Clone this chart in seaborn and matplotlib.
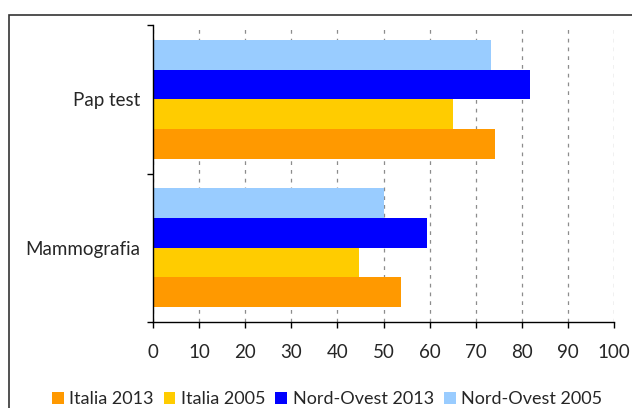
import numpy as np
import pandas as pd
import matplotlib
matplotlib.use("Agg")
import matplotlib.pyplot as plt
from matplotlib.patches import Patch, Rectangle
from matplotlib.ticker import FixedLocator
import seaborn as sns

categories = ["Pap test", "Mammografia"]
series = ["Nord-Ovest 2005", "Nord-Ovest 2013", "Italia 2005", "Italia 2013"]
nord_ovest_2005 = [73.3, 50.2]
nord_ovest_2013 = [81.7, 59.4]
italia_2005 = [65.1, 44.6]
italia_2013 = [74.2, 53.7]
colors = {"Italia 2013": "#FF9900", "Italia 2005": "#FFCC00",
          "Nord-Ovest 2013": "#0000FF", "Nord-Ovest 2005": "#99CCFF"}
legend_order = ["Italia 2013", "Italia 2005", "Nord-Ovest 2013", "Nord-Ovest 2005"]
x_ticks = list(range(0, 101, 10))

values = {"Nord-Ovest 2005": nord_ovest_2005, "Nord-Ovest 2013": nord_ovest_2013,
          "Italia 2005": italia_2005, "Italia 2013": italia_2013}
df = pd.DataFrame([{"esame": c, "serie": s, "valore": values[s][i]}
                   for s in series for i, c in enumerate(categories)])

sns.set_style("white")
plt.rcParams["font.family"] = ["Lato", "DejaVu Sans"]

fig = plt.figure(figsize=(6.32, 4.08), dpi=100)
ax = fig.add_axes([153 / 632, 1 - 322 / 408, (614 - 153) / 632, (322 - 25) / 408])

sns.barplot(data=df, x="valore", y="esame", hue="serie", order=categories,
            hue_order=series, palette=colors, orient="h", width=0.8,
            saturation=1, linewidth=0, ax=ax, legend=False)

ax.set_xlim(0, 100)
ax.set_ylim(1.5, -0.5)
ax.set_xticks(x_ticks)
ax.set_xticklabels([str(t) for t in x_ticks], fontsize=13.5)
ax.set_xlabel("")
ax.set_ylabel("")
ax.tick_params(axis="y", which="major", length=0, pad=9, labelsize=13.5)
ax.yaxis.set_minor_locator(FixedLocator([-0.5, 0.5, 1.5]))
ax.tick_params(axis="y", which="minor", length=4, width=1, color="black", direction="out", left=True)
ax.tick_params(axis="x", length=4, width=1, color="black", direction="out", bottom=True, pad=12)

ax.set_axisbelow(True)
ax.xaxis.grid(True, linestyle=(0, (3, 4)), color="#8c8c8c", linewidth=0.9)
ax.yaxis.grid(False)
for side in ["top", "right"]:
    ax.spines[side].set_visible(False)
for side in ["left", "bottom"]:
    ax.spines[side].set_color("black")
    ax.spines[side].set_linewidth(1)

handles = [Patch(facecolor=colors[s], edgecolor="none", label=s) for s in legend_order]
fig.legend(handles=handles, loc="center", bbox_to_anchor=(327 / 632, 1 - 399 / 408), ncol=4,
           frameon=False, fontsize=13, handlelength=0.66, handleheight=0.66,
           handletextpad=0.3, columnspacing=0.55, borderaxespad=0)

fig.patches.append(Rectangle((9 / 632, -0.1), 1.2, 1.1 - 15 / 408, transform=fig.transFigure,
                             fill=False, edgecolor="#333333", linewidth=1.2, clip_on=False))

fig.savefig("out.png", dpi=100)
